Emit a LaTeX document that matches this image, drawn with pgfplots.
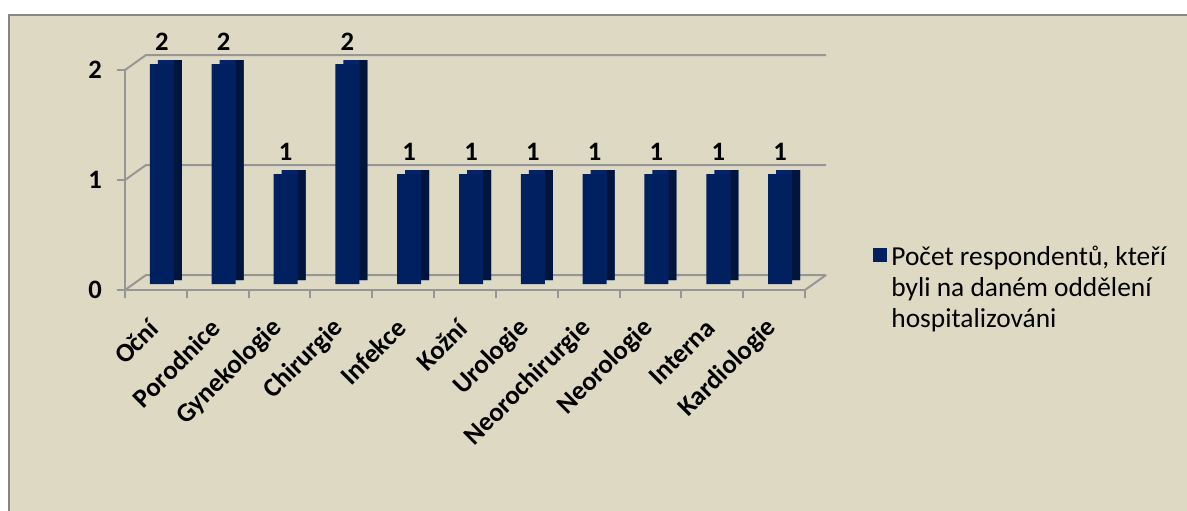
\documentclass[border=0pt]{standalone}
\usepackage{fontspec}
\setmainfont{Carlito}
\usepackage{pgfplots}
\usepackage{pgfplotstable}
\pgfplotsset{compat=1.18}
\definecolor{bg}{RGB}{221,217,195}
\definecolor{framec}{RGB}{134,134,134}
\definecolor{gridc}{RGB}{150,150,150}
\definecolor{navy}{RGB}{0,32,96}
\definecolor{navyside}{RGB}{0,21,62}
\definecolor{navytop}{RGB}{3,36,104}

\pgfplotstableread{
x y
0 2
1 2
2 1
3 2
4 1
5 1
6 1
7 1
8 1
9 1
10 1
}\datatable

\begin{document}
\begin{tikzpicture}
\fill[white] (-62.5pt,-110pt) rectangle (531pt,145pt);
\filldraw[fill=bg, draw=framec, line width=1.2pt] (-58pt,-118pt) rectangle (540pt,137.5pt);
\begin{axis}[
  scale only axis, width=340pt, height=110pt,
  xmin=-0.5, xmax=10.5, ymin=0, ymax=2,
  axis lines=left, axis line style={-, draw=gridc, line width=1pt},
  clip=false,
  ybar, bar width=12pt,
  /pgf/number format/assume math mode=true,
  ytick={0,1,2},
  xtick={0,...,10},
  xticklabels={Oční,Porodnice,Gynekologie,Chirurgie,Infekce,Kožní,Urologie,Neorochirurgie,Neorologie,Interna,Kardiologie},
  minor xtick={-0.5,0.5,...,10.5},
  major x tick style={draw=none},
  tick style={draw=gridc, line width=1pt},
  major tick length=4pt, minor tick length=4pt,
  tick align=outside,
  yticklabel style={font=\bfseries\fontsize{13.3}{15}\selectfont, xshift=-4pt},
  xticklabel style={font=\bfseries\fontsize{13.3}{15}\selectfont, xshift=1.5pt, yshift=-10.5pt, rotate=45, anchor=east},
  legend style={at={(rel axis cs:1.1,0.22)}, anchor=north west, draw=none, fill=none,
    font=\fontsize{13.7}{15.5}\selectfont, cells={align=left}, inner sep=0pt},
  legend cell align=left,
  legend image code/.code={\fill[navy] (0pt,10pt) rectangle (7pt,17pt);},
]
\draw[gridc, line width=1pt] (axis cs:-0.5,0) -- ++(10.5pt,7.5pt) -- ++(340pt,0pt);
\draw[gridc, line width=1pt] (axis cs:-0.5,1) -- ++(10.5pt,7.5pt) -- ++(340pt,0pt);
\draw[gridc, line width=1pt] (axis cs:-0.5,2) -- ++(10.5pt,7.5pt) -- ++(340pt,0pt);
\draw[gridc, line width=1pt] (axis cs:10.5,0) -- ++(10.5pt,7.5pt);
\addplot[fill=navytop, draw=none, bar shift=0pt, xshift=7pt, yshift=5pt, forget plot] table {\datatable};
\addplot[fill=navyside, draw=none, bar shift=0pt, bar width=4pt, xshift=11pt, yshift=5pt, forget plot] table {\datatable};
\addplot[fill=navy, draw=none, bar shift=0pt, xshift=3pt, yshift=3pt,
  nodes near coords, every node near coord/.append style={font=\bfseries\fontsize{13.3}{15}\selectfont, yshift=3pt, black}] table {\datatable};
\addlegendentry{Počet respondentů, kteří\\byli na daném oddělení\\hospitalizováni}
\end{axis}
\pgfresetboundingbox
\path[use as bounding box] (-62.5pt,-110pt) rectangle (531pt,145pt);
\end{tikzpicture}
\end{document}
